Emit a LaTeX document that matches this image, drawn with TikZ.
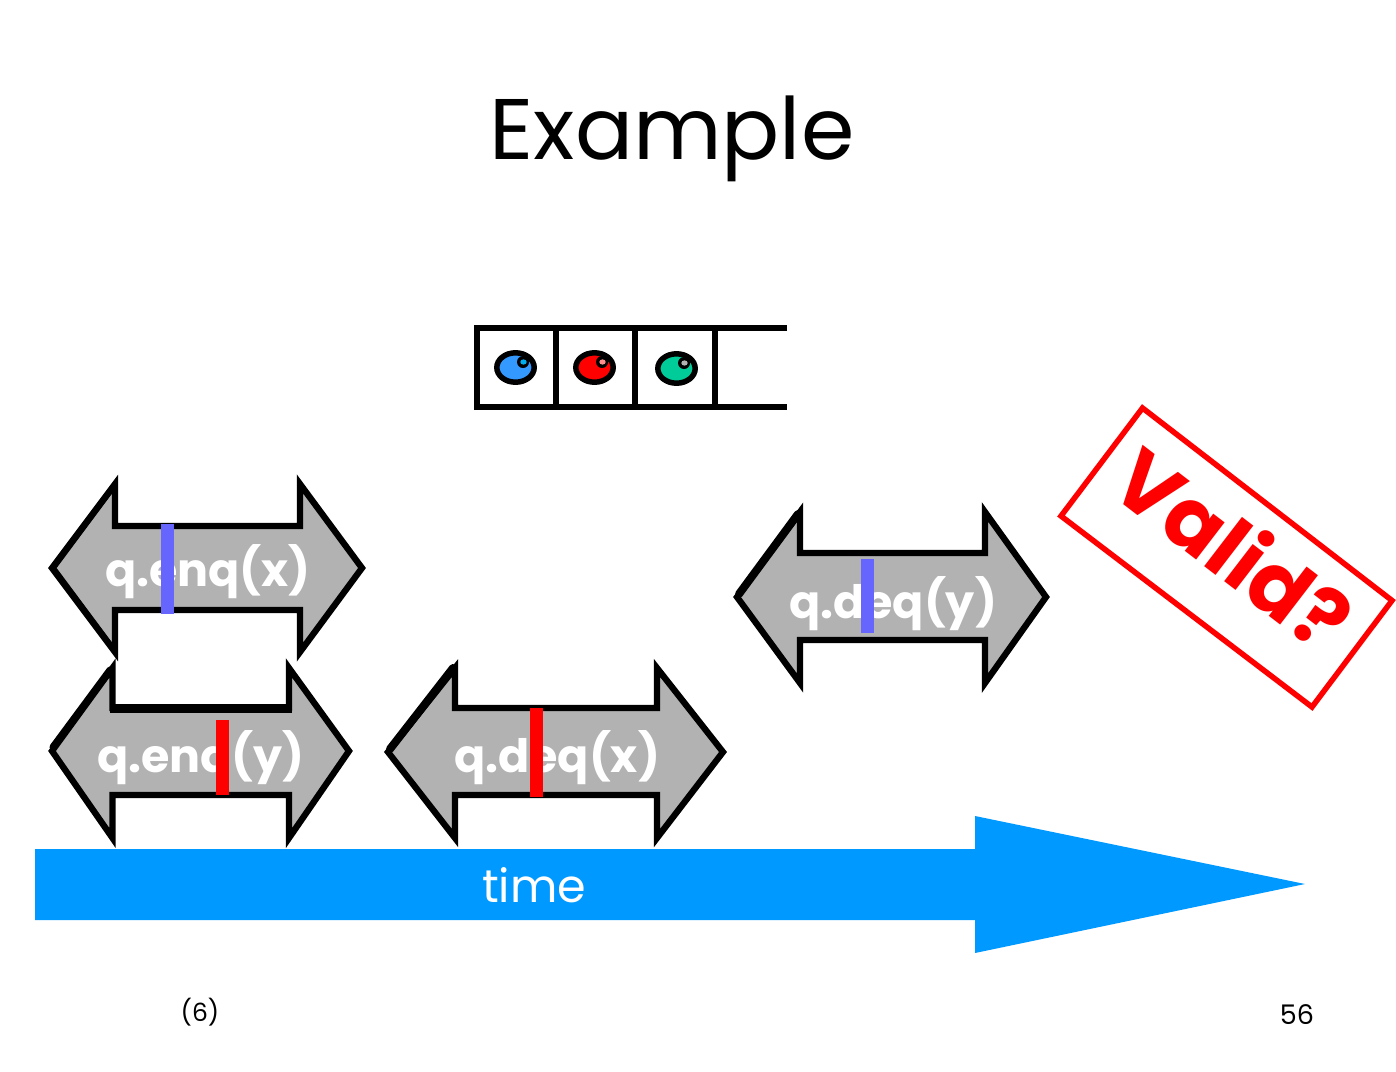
\documentclass[tikz,border=0pt]{standalone}
\usepackage{fontspec}
\setmainfont{Poppins}
\definecolor{timeblue}{HTML}{0099FF}
\definecolor{opgray}{HTML}{B2B2B2}
\definecolor{barblue}{HTML}{6666FF}
\definecolor{ballblue}{HTML}{3399FF}
\definecolor{ballgreen}{HTML}{00CC99}
\tikzset{
  opshape/.style={draw=black,fill=opgray,line width=6.3pt,miter limit=10},
  optext/.style={text=white,font=\fontsize{46}{46}\selectfont\bfseries,inner sep=0pt,anchor=center},
  ball/.style={draw=black,line width=5.5pt},
  glint/.style={fill=black},
  qline/.style={draw=black,line width=6pt}
}
\newcommand{\opshape}[9]{% tipL vertL vertR tipR tipY barTop barBot tipTop tipBot
  \draw[opshape] (#1,#5) -- (#2,#8) -- (#2,#6) -- (#3,#6) -- (#3,#8) -- (#4,#5) -- (#3,#9) -- (#3,#7) -- (#2,#7) -- (#2,#9) -- cycle;
}
\begin{document}
\begin{tikzpicture}[x=1pt,y=-1pt]
\useasboundingbox (0,0) rectangle (1396,1071);
\fill[white] (0,0) rectangle (1396,1071);

\node[inner sep=0pt] (title) at (672,139) {\fontsize{86}{86}\selectfont Example};

% queue
\draw[qline] (787,327.5) -- (477,327.5) -- (477,407) -- (787,407);
\draw[qline] (556,327.5) -- (556,407);
\draw[qline] (635,327.5) -- (635,407);
\draw[qline] (715,327.5) -- (715,407);
\draw[ball,fill=ballblue] (515.5,367.5) ellipse (18.7 and 14.7);
\fill[glint] (523,362) circle (6);
\fill[cyan] (523.5,362) ellipse (3.2 and 2.6);
\draw[ball,fill=red] (594.5,367.5) ellipse (18.7 and 14.7);
\fill[glint] (602,362) circle (6);
\fill[red!45!white] (602.5,362) ellipse (3.2 and 2.6);
\draw[ball,fill=ballgreen] (676.5,368.5) ellipse (18.7 and 14.7);
\fill[glint] (684,363) circle (6);
\fill[opgray] (684.5,363) ellipse (3.2 and 2.6);

% operations
\opshape{52}{115}{300}{362}{568}{526}{610}{484}{652}
\draw[line width=5pt,line cap=round] (55,566) -- (113,488);
\draw[line width=5pt,line cap=round] (55,570) -- (113,648);
\node[optext] (enqx) at (208,572) {q.enq(x)};
\fill[barblue] (161,524) rectangle (174,614);

\opshape{52}{112.5}{289}{349}{751}{708}{795}{668}{838}
\draw[line width=7pt,line cap=round] (53,747) -- (110,670);
\draw[line width=9pt] (110,708.5) -- (292,708.5);
\node[optext] (enqy) at (201,758) {q.enq(y)};
\fill[red] (216,720) rectangle (229,795);

\opshape{388}{455}{657}{723}{752}{708}{795}{668}{838}
\draw[line width=8pt,line cap=round] (390,749) -- (453,668);
\node[optext] (deqx) at (557,758) {q.deq(x)};
\fill[red] (530,708) rectangle (543,797);

\opshape{737}{800}{985}{1046}{597}{553}{640}{512}{683}
\draw[line width=8pt,line cap=round] (739,594) -- (798,514);
\node[optext] (deqy) at (893,604) {q.deq(y)};
\fill[barblue] (861,559) rectangle (874,633);

% time arrow
\fill[timeblue] (35,849) -- (975,849) -- (975,816) -- (1305,884) -- (975,953) -- (975,920) -- (35,920) -- cycle;
\node[text=white,inner sep=0pt,font=\fontsize{46}{46}\selectfont] (time) at (534,885) {time};

% valid stamp
\draw[red,line width=5.5pt,miter limit=10] (1142.5,408) -- (1392,600.5) -- (1312,707) -- (1061,516) -- cycle;
\node[text=red,rotate=-37.5,inner sep=0pt,font=\fontsize{84}{84}\selectfont\bfseries] (valid) at (1234,547) {Valid?};

% footers
\node[inner sep=0pt,font=\fontsize{25}{25}\selectfont] (six) at (200,1012) {(6)};
\node[inner sep=0pt,font=\fontsize{27}{27}\selectfont] (page) at (1297,1015) {56};
\end{tikzpicture}
\end{document}
